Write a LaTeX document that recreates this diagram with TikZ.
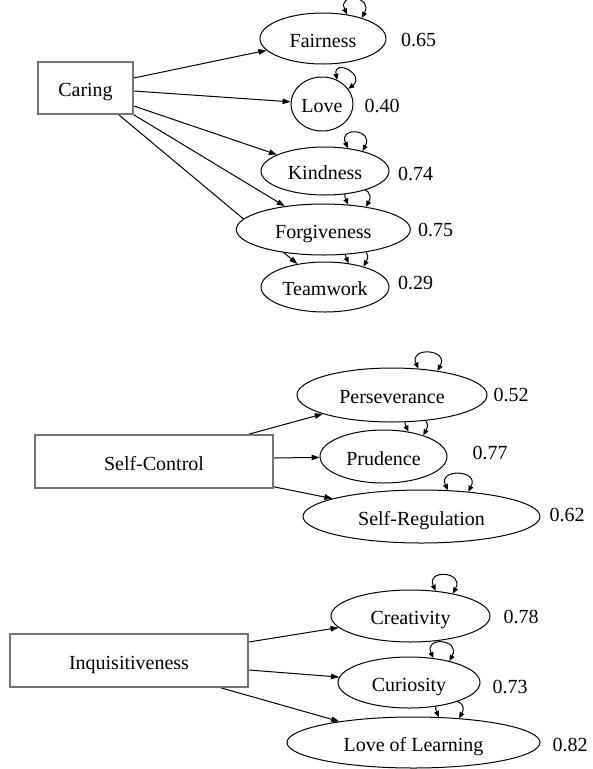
\documentclass[tikz,border=0pt]{standalone}
\usepackage{fontspec}
\setmainfont{Liberation Serif}
\usetikzlibrary{arrows.meta,shapes.geometric,backgrounds}

\begin{document}
\begin{tikzpicture}[x=1pt,y=-1pt,line cap=round,
  font=\fontsize{20}{24}\selectfont,
  factor/.style={draw=black!55,line width=1.6pt,fill=white,inner sep=0pt,
    text height=17pt,text depth=0pt},
  item/.style={ellipse,draw,line width=1pt,fill=white,inner sep=0pt,
    text height=17pt,text depth=0pt},
  coef/.style={inner sep=0pt},
  load/.style={line width=1pt,-{Triangle[length=8pt,width=5.5pt]}},
  resid/.style={line width=1pt,
    {Triangle[length=6pt,width=5pt]}-{Triangle[length=6pt,width=5pt]}}]
  \useasboundingbox (0,0) rectangle (593,769);

  % caring
  \node[factor,minimum width=95pt,minimum height=52pt] (caring) at (85.5,88) {Caring};
  \node[item,minimum width=126pt,minimum height=51pt] (fair) at (323,38.5) {Fairness};
  \node[item,minimum width=62pt,minimum height=54pt] (love) at (322,104) {Love};
  \node[item,minimum width=128pt,minimum height=48pt] (kind) at (325,171) {Kindness};
  \node[item,minimum width=174pt,minimum height=51pt] (forg) at (323.3,229.5) {Forgiveness};
  \node[item,minimum width=128pt,minimum height=50pt] (team) at (325,287) {Teamwork};
  \node[coef] (cfair) at (418.5,40) {0.65};
  \node[coef] (clove) at (382,106) {0.40};
  \node[coef] (ckind) at (415.5,174) {0.74};
  \node[coef] (cforg) at (435.5,230) {0.75};
  \node[coef] (cteam) at (415.5,283) {0.29};

  % self-control
  \node[factor,minimum width=238pt,minimum height=53pt] (selfcon) at (154,461.5) {Self-Control};
  \node[item,minimum width=190pt,minimum height=54pt] (pers) at (392,395) {Perseverance};
  \node[item,minimum width=127pt,minimum height=53pt] (prud) at (383.5,456.5) {Prudence};
  \node[item,minimum width=237pt,minimum height=53pt] (selfreg) at (421.5,516.5) {Self-Regulation};
  \node[coef] (cpers) at (511,395) {0.52};
  \node[coef] (cprud) at (490,453) {0.77};
  \node[coef] (cselfreg) at (567,515) {0.62};

  % inquisitiveness
  \node[factor,minimum width=238pt,minimum height=53pt] (inq) at (129,660.5) {Inquisitiveness};
  \node[item,minimum width=159pt,minimum height=52pt] (crea) at (410.5,616) {Creativity};
  \node[item,minimum width=142pt,minimum height=51pt] (curi) at (409,682.5) {Curiosity};
  \node[item,minimum width=253pt,minimum height=51pt] (lol) at (413.5,742.5) {Love of Learning};
  \node[coef] (ccrea) at (521,617) {0.78};
  \node[coef] (ccuri) at (510,687) {0.73};
  \node[coef] (clol) at (570,745) {0.82};

  \begin{scope}[on background layer]
    \draw[load] ([yshift=10pt]caring.east) -- (fair);
    \draw[load] ([yshift=-3pt]caring.east) -- (love);
    \draw[load] ([yshift=-18pt]caring.east) -- (kind);
    \draw[load] (caring.south east) -- (forg);
    \draw[load] ([xshift=-15pt]caring.south east) -- (team);

    \draw[load] ([xshift=-25pt]selfcon.north east) -- (pers);
    \draw[load] ([yshift=3.5pt]selfcon.east) -- (prud);
    \draw[load] ([yshift=2pt]selfcon.south east) -- (selfreg);

    \draw[load] ([yshift=18.5pt]inq.east) -- (crea);
    \draw[load] ([yshift=-9.5pt]inq.east) -- (curi);
    \draw[load] ([xshift=-28pt]inq.south east) -- (lol);

    % residual loops
    \foreach \n in {fair,kind,forg,team,pers,prud,selfreg,crea,curi,lol}
      \draw[resid] (\n.45) .. controls +(-10,-22) and +(12,-22) .. (\n.28);
    \draw[resid] (love.58) .. controls +(-4,-22) and +(18,-14) .. (love.30);
  \end{scope}
\end{tikzpicture}
\end{document}
